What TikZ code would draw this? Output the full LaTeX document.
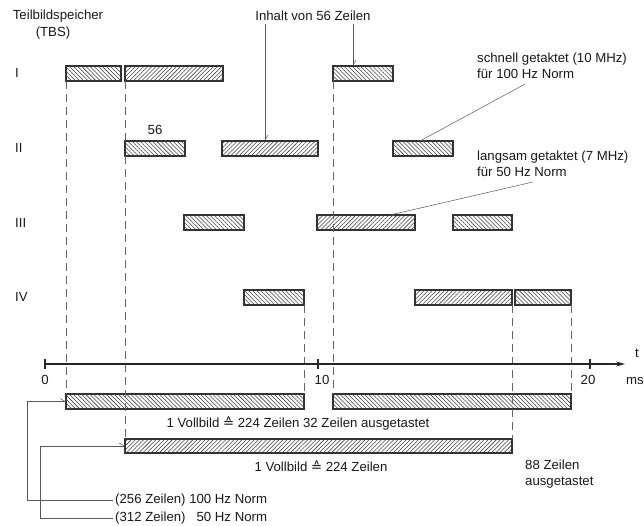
\documentclass[tikz,border=0pt]{standalone}
\usepackage{fontspec}
\setmainfont{Liberation Sans}
\newfontfamily\symfont{DejaVu Sans}
\usetikzlibrary{patterns.meta,arrows.meta}
\begin{document}
\begin{tikzpicture}[x=1pt,y=-1pt,
 bar/.style={draw=black!80, line width=1.1pt, inner sep=0pt, outer sep=0pt, minimum height=15pt, anchor=north west},
 hne/.style={bar, pattern={Lines[angle=45,distance=2.9pt,line width=0.55pt]}, pattern color=black!75},
 hnw/.style={bar, pattern={Lines[angle=-45,distance=2.9pt,line width=0.55pt]}, pattern color=black!75},
 guide/.style={draw=black!60, line width=0.6pt, dash pattern=on 8pt off 5pt},
 lbl/.style={font=\fontsize{13.2}{16}\selectfont, text=black!90, inner sep=0pt},
 ann/.style={draw=black!65, line width=0.5pt, -{Straight Barb[harpoon,length=5pt,width=6pt]}},
 axisline/.style={draw=black!85, line width=1.1pt}
]
\fill[white] (0,0) rectangle (644,526);
\useasboundingbox (0,0) rectangle (644,526);

% titles
\node[lbl] (tbs1) at (58,16) {Teilbildspeicher};
\node[lbl] (tbs2) at (53,33) {(TBS)};
\node[lbl, anchor=west] (rI) at (15,73) {I};
\node[lbl, anchor=west] (rII) at (15,148) {II};
\node[lbl, anchor=west] (rIII) at (15,223) {III};
\node[lbl, anchor=west] (rIV) at (15,297) {IV};

% row I
\node[hnw, minimum width=55pt] (I1) at (66,66) {};
\node[hne, minimum width=98pt] (I2) at (125,66) {};
\node[hnw, minimum width=60pt] (I3) at (333,66) {};
% row II
\node[hnw, minimum width=60pt] (II1) at (125,141) {};
\node[hne, minimum width=96pt] (II2) at (222,141) {};
\node[hnw, minimum width=60pt] (II3) at (393,141) {};
\node[lbl] (n56) at (155,130) {56};
% row III
\node[hnw, minimum width=60pt] (III1) at (184,215) {};
\node[hne, minimum width=98pt] (III2) at (317,215) {};
\node[hnw, minimum width=59pt] (III3) at (453,215) {};
% row IV
\node[hnw, minimum width=60pt] (IV1) at (244,290) {};
\node[hne, minimum width=97pt] (IV2) at (415,290) {};
\node[hnw, minimum width=56pt] (IV3) at (515,290) {};
% bottom bars
\node[hnw, minimum width=238pt] (B1) at (66,394) {};
\node[hnw, minimum width=238pt] (B1b) at (333,394) {};
\node[hne, minimum width=387pt, minimum height=14pt] (B2) at (125,439) {};

% dashed guides
\draw[guide] (I1.south west) -- (B1.north west);
\draw[guide] (I2.south west) -- (II1.north west);
\draw[guide] (II1.south west) -- (B2.north west);
\draw[guide] (IV1.south east) -- (B1.north east);
\draw[guide] (I3.south west) -- (B1b.north west);
\draw[guide] (IV2.south east) -- (B2.north east);
\draw[guide] (IV3.south east) -- (B1b.north east);

% time axis
\coordinate (ax0) at (45,364);
\coordinate (axe) at (625,364);
\draw[axisline, -{Stealth[length=9pt,width=5pt]}] (ax0) -- (axe);
\coordinate (t10) at (318,364);
\coordinate (t20) at (590,364);
\draw[axisline] ([yshift=-5pt]ax0) -- ([yshift=5pt]ax0);
\draw[axisline] ([yshift=-5pt]t10) -- ([yshift=5pt]t10);
\draw[axisline] ([yshift=-5pt]t20) -- ([yshift=5pt]t20);
\node[lbl] (l0) at (45,380) {0};
\node[lbl] (l10) at (322,380) {10};
\node[lbl] (l20) at (588,380) {20};
\node[lbl] (lt) at (637,353) {t};
\node[lbl, anchor=west] (lms) at (626,381) {ms};

% annotations top
\node[lbl] (inh) at (313,16) {Inhalt von 56 Zeilen};
\draw[ann] ([xshift=-48pt,yshift=-3pt]inh.south) -- ([xshift=-5pt]II2.north);
\draw[ann] ([xshift=40pt,yshift=-3pt]inh.south) -- ([xshift=-10pt]I3.north);
\node[lbl, anchor=west, align=left] (sch) at (477,66) {schnell getaktet (10 MHz)\\f\"ur 100 Hz Norm};
\draw[ann] ([xshift=-27pt,yshift=-5pt]sch.south) -- ([xshift=-3pt]II3.north);
\node[lbl, anchor=west, align=left] (lan) at (477,164) {langsam getaktet (7 MHz)\\f\"ur 50 Hz Norm};
\draw[ann] ([xshift=-20pt,yshift=-5pt]lan.south) -- ([xshift=24pt]III2.north);

% bottom texts
\node[lbl] (vb1) at (298,424) {1 Vollbild {\symfont ≙} 224 Zeilen 32 Zeilen ausgetastet};
\node[lbl] (vb2) at (321,466) {1 Vollbild {\symfont ≙} 224 Zeilen};
\node[lbl, anchor=west, align=left] (z88) at (525,474.5) {88 Zeilen\\ausgetastet};
\node[lbl, anchor=west] (n256) at (115,500) {(256 Zeilen) 100 Hz Norm};
\node[lbl, anchor=west] (n312) at (115,518) {(312 Zeilen) \phantom{1}50 Hz Norm};
\coordinate (k1) at (27,500);
\coordinate (k2) at (40,518);
\draw[ann] ([xshift=-2pt]n256.west) -- (k1) |- (B1.west);
\draw[ann] ([xshift=-2pt]n312.west) -- (k2) |- (B2.west);
\end{tikzpicture}
\end{document}
